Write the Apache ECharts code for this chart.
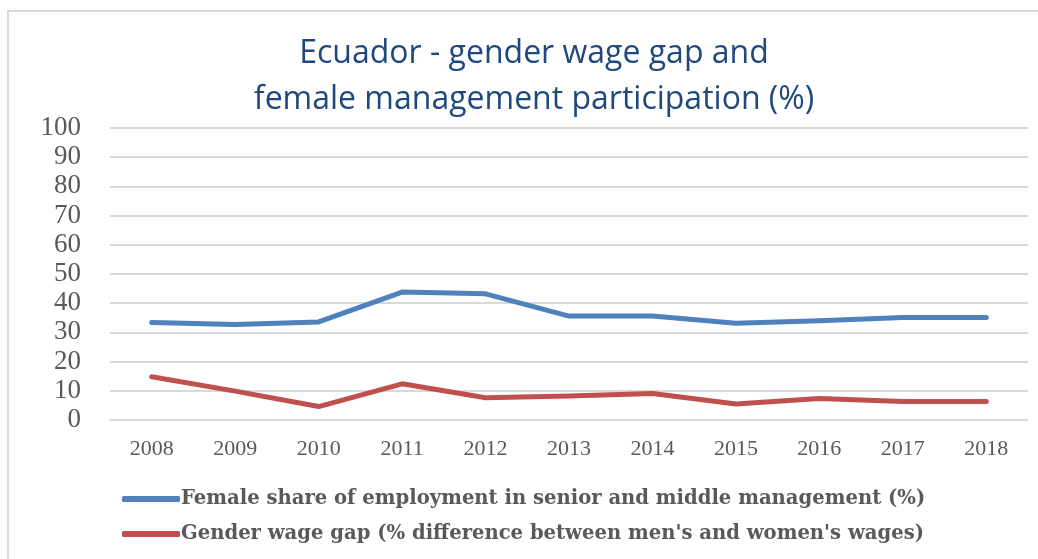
<!DOCTYPE html>
<html>
<head>
<meta charset="utf-8">
<script src="https://cdn.jsdelivr.net/npm/echarts@6/dist/echarts.min.js"></script>
<style>
  html, body { margin: 0; padding: 0; background: #fff; }
  #chart { width: 1038px; height: 559px; }
</style>
</head>
<body>
<div id="chart"></div>
<script>
// data
var years = ['2008', '2009', '2010', '2011', '2012', '2013', '2014', '2015', '2016', '2017', '2018']
var femaleShare = [33.4, 32.7, 33.6, 43.8, 43.2, 35.6, 35.6, 33.1, 34.0, 35.1, 35.1]
var wageGap = [14.8, 9.9, 4.6, 12.4, 7.6, 8.2, 9.1, 5.5, 7.4, 6.3, 6.3]
var seriesNames = [
  'Female share of employment in senior and middle management (%)',
  'Gender wage gap (% difference between men\'s and women\'s wages)'
]

var chart = echarts.init(document.getElementById('chart'))

var options = {
  animation: false,
  title: {
    text: 'Ecuador - gender wage gap and\nfemale management participation (%)',
    left: 529,
    textAlign: 'center',
    top: 26,
    textStyle: {
      fontFamily: 'Open Sans',
      fontWeight: 'normal',
      fontSize: 32,
      lineHeight: 46,
      color: '#1F497D'
    }
  },
  graphic: [
    {
      type: 'rect',
      shape: { x: 8, y: 11, width: 1100, height: 600 },
      style: { fill: 'none', stroke: '#d9d9d9', lineWidth: 2 },
      silent: true
    }
  ],
  legend: {
    orient: 'vertical',
    left: 117,
    top: 484,
    itemWidth: 58,
    itemHeight: 6,
    itemGap: 15,
    icon: 'roundRect',
    textStyle: {
      fontFamily: 'DejaVu Serif',
      fontWeight: 'bold',
      fontSize: 19.6,
      color: '#595959',
      padding: [0, 0, 0, -4]
    },
    data: seriesNames
  },
  grid: {
    left: 110,
    right: 10,
    top: 128,
    bottom: 139,
    containLabel: false
  },
  xAxis: {
    type: 'category',
    data: years,
    boundaryGap: true,
    axisLine: { show: false },
    axisTick: { show: false },
    axisLabel: {
      fontFamily: 'Liberation Serif',
      fontSize: 22,
      color: '#595959',
      margin: 18
    }
  },
  yAxis: {
    type: 'value',
    min: 0,
    max: 100,
    interval: 10,
    axisLine: { show: false },
    axisTick: { show: false },
    axisLabel: {
      fontFamily: 'Liberation Serif',
      fontSize: 27,
      color: '#595959',
      margin: 29
    },
    splitLine: {
      lineStyle: { color: '#d9d9d9', width: 2 }
    }
  },
  series: [
    {
      name: seriesNames[0],
      type: 'line',
      data: femaleShare,
      symbol: 'none',
      color: '#4F81BD',
      lineStyle: { color: '#4F81BD', width: 5, cap: 'round', join: 'round' }
    },
    {
      name: seriesNames[1],
      type: 'line',
      data: wageGap,
      symbol: 'none',
      color: '#C0504D',
      lineStyle: { color: '#C0504D', width: 5, cap: 'round', join: 'round' }
    }
  ]
}

chart.setOption(options)
</script>
</body>
</html>
